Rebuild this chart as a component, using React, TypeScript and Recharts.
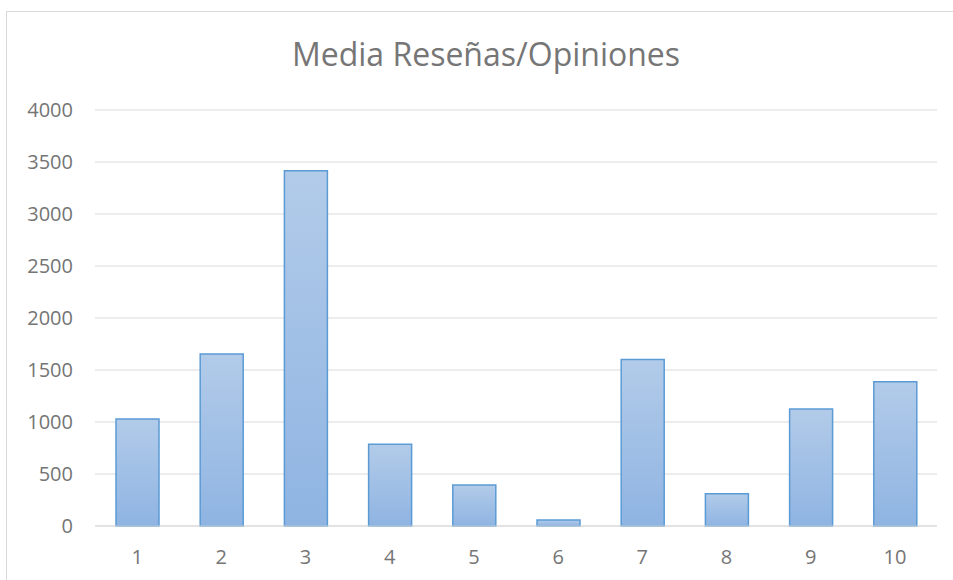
import React from "react";
import { BarChart, Bar, XAxis, YAxis, CartesianGrid } from "recharts";

const categories: string[] = ["1", "2", "3", "4", "5", "6", "7", "8", "9", "10"];
const values: number[] = [1030, 1655, 3415, 785, 395, 58, 1600, 310, 1125, 1387];
const yTicks: number[] = [0, 500, 1000, 1500, 2000, 2500, 3000, 3500, 4000];
const title = "Media Reseñas/Opiniones";

const data = categories.map((c, i) => ({ name: c, value: values[i] }));

const FONT = "'Open Sans', 'Noto Sans', sans-serif";

export default function App() {
  return (
    <div
      style={{
        position: "absolute",
        left: 0,
        top: 0,
        width: 953,
        height: 580,
        overflow: "hidden",
        background: "#ffffff",
        fontFamily: FONT,
      }}
    >
      <svg
        width={953}
        height={580}
        style={{ position: "absolute", left: 0, top: 0 }}
      >
        <rect x={6.5} y={11.5} width={980} height={620} fill="none" stroke="#d9d9d9" strokeWidth={1} />
        <text
          x={486}
          y={66}
          textAnchor="middle"
          fontFamily={FONT}
          fontSize={32}
          fill="#767676"
        >
          {title}
        </text>
      </svg>
      <div style={{ position: "absolute", left: 0, top: 0 }}>
        <BarChart
          width={953}
          height={580}
          data={data}
          margin={{ top: 110, right: 16, bottom: 14, left: 0 }}
        >
          <defs>
            <linearGradient id="barGrad" x1="0" y1="0" x2="0" y2="1">
              <stop offset="0%" stopColor="#b2cbe9" />
              <stop offset="100%" stopColor="#8fb4e2" />
            </linearGradient>
          </defs>
          <CartesianGrid vertical={false} stroke="#d9d9d9" strokeWidth={1} />
          <XAxis
            dataKey="name"
            height={40}
            axisLine={{ stroke: "#d9d9d9", strokeWidth: 1 }}
            tickLine={false}
            tickMargin={18}
            tick={{ fill: "#757575", fontSize: 20, fontFamily: FONT }}
            interval={0}
          />
          <YAxis
            width={95}
            domain={[0, 4000]}
            ticks={yTicks}
            axisLine={false}
            tickLine={false}
            tickMargin={16}
            tick={{ fill: "#757575", fontSize: 20, fontFamily: FONT }}
            interval={0}
          />
          <Bar
            dataKey="value"
            barSize={43}
            fill="url(#barGrad)"
            stroke="#5b9bd5"
            strokeWidth={1.5}
            isAnimationActive={false}
          />
        </BarChart>
      </div>
    </div>
  );
}
